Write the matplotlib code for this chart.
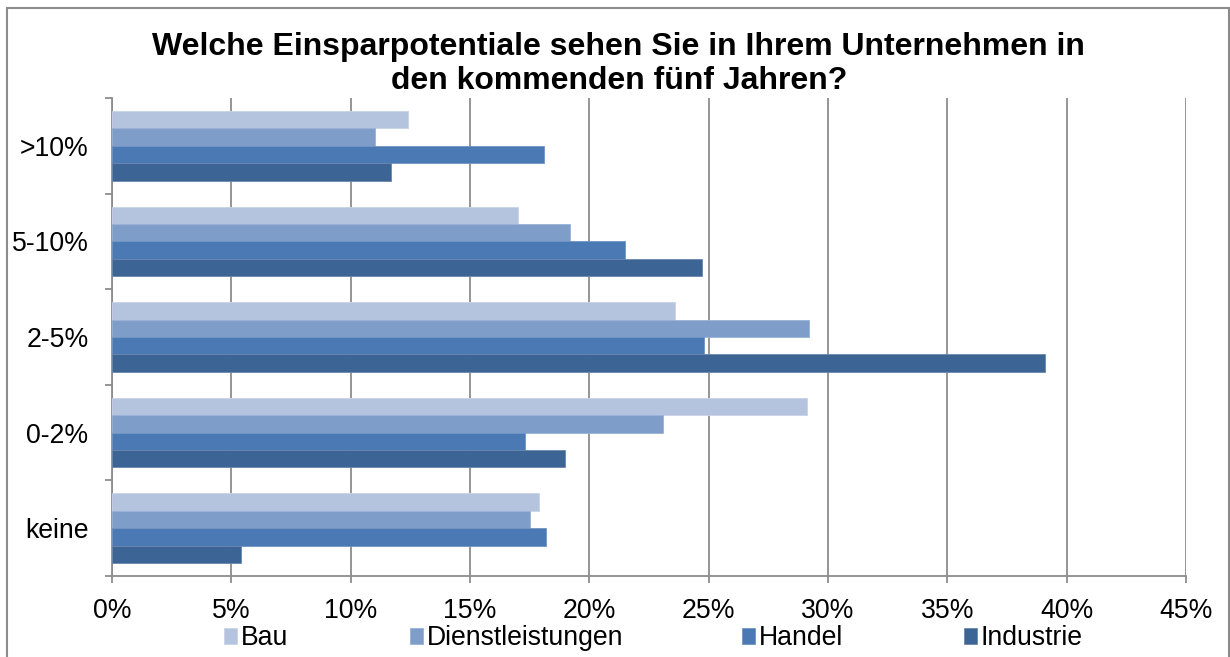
import matplotlib
matplotlib.use("Agg")
import matplotlib.pyplot as plt
from matplotlib.patches import Rectangle
from matplotlib.ticker import FuncFormatter, FixedLocator
import numpy as np

plt.rcParams['font.family'] = ['Liberation Sans', 'DejaVu Sans']

categories = [">10%", "5-10%", "2-5%", "0-2%", "keine"]
series = ["Bau", "Dienstleistungen", "Handel", "Industrie"]
bau = [12.4, 17.0, 23.6, 29.1, 17.9]
dienstleistungen = [11.0, 19.2, 29.2, 23.1, 17.5]
handel = [18.1, 21.5, 24.8, 17.3, 18.2]
industrie = [11.7, 24.7, 39.1, 19.0, 5.4]
values = [bau, dienstleistungen, handel, industrie]
colors = ["#B4C3DE", "#7F9DC9", "#4A79B3", "#3C6595"]
edgecolors = ["#C9D4E8", "#9AB2D6", "#7194C3", "#6A87AC"]
xticks = [0, 5, 10, 15, 20, 25, 30, 35, 40, 45]

fs = 19.2

fig = plt.figure(figsize=(12.3, 6.57), dpi=100)
ax = fig.add_axes([112/1230, 1 - 576/657, (1186-112)/1230, (576-98)/657])

y = np.arange(len(categories))
h = 0.182
handles = []
for j, (vals, c, ec) in enumerate(zip(values, colors, edgecolors)):
    b = ax.barh(y + (j - 1.5) * h, vals, height=h, color=c, edgecolor=ec,
                linewidth=0.6, label=series[j], zorder=3)
    handles.append(b)

ax.set_xlim(0, 45)
ax.set_ylim(len(categories) - 0.5, -0.5)
ax.set_xticks(xticks)
ax.xaxis.set_major_formatter(FuncFormatter(lambda v, p: f"{int(v)}%"))
ax.grid(axis='x', color='#8C8C8C', linewidth=1.3, zorder=1)
ax.set_axisbelow(True)

# y ticks at boundaries, labels at centers
ax.yaxis.set_major_locator(FixedLocator(np.arange(-0.5, len(categories), 1.0)))
ax.yaxis.set_major_formatter(FuncFormatter(lambda v, p: ""))
ax.yaxis.set_minor_locator(FixedLocator(y))
ax.set_yticklabels(categories, minor=True)
ax.tick_params(axis='y', which='major', length=5, width=1.3, color='#8C8C8C', direction='out')
ax.tick_params(axis='y', which='minor', length=0, pad=17, labelsize=fs)
ax.tick_params(axis='x', which='major', length=5, width=1.3, color='#8C8C8C',
               direction='out', pad=11, labelsize=fs)

for s in ['top', 'right']:
    ax.spines[s].set_visible(False)
for s in ['left', 'bottom']:
    ax.spines[s].set_color('#8C8C8C')
    ax.spines[s].set_linewidth(1.3)

fig.text(0.503, 1 - 47/657, "Welche Einsparpotentiale sehen Sie in Ihrem Unternehmen in",
         ha='center', va='center', fontsize=23, fontweight='bold')
fig.text(0.503, 1 - 81/657, "den kommenden fünf Jahren?",
         ha='center', va='center', fontsize=23, fontweight='bold')

legend_x = [224, 410, 742, 964]
for hnd, name, lx in zip(handles, series, legend_x):
    fig.legend(handles=[hnd], labels=[name], loc='center left',
               bbox_to_anchor=(lx/1230, 1 - 638/657), frameon=False,
               fontsize=fs, handlelength=0.5, handleheight=0.55,
               handletextpad=0.12, borderpad=0, borderaxespad=0)

fig.patches.append(Rectangle((7/1230, -0.01), (1229-7)/1230, 1 - 8/657 + 0.01,
                             transform=fig.transFigure, fill=False,
                             edgecolor='#8C8C8C', linewidth=1.5))

fig.savefig("out.png", dpi=100)
